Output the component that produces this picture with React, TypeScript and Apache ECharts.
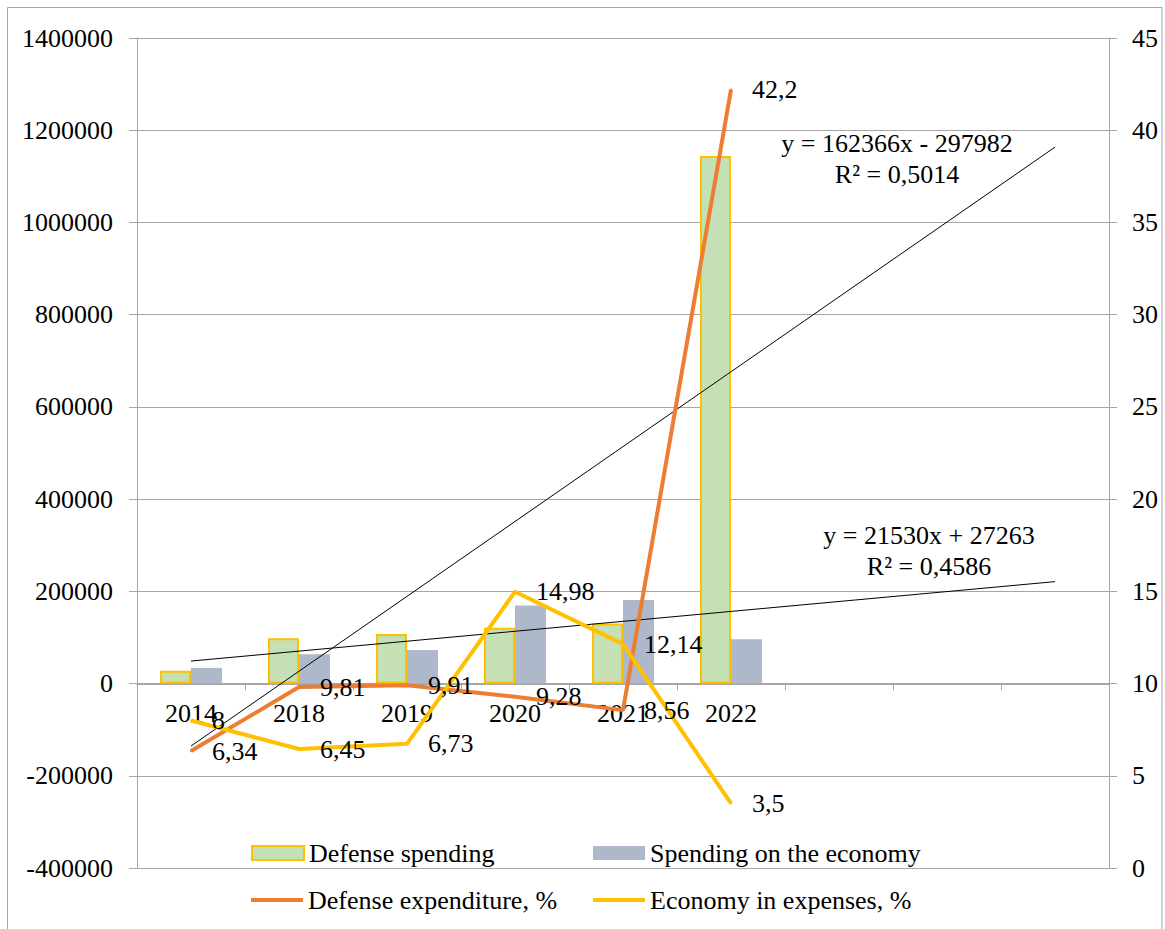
import React, { useEffect, useRef } from "react";
import * as echarts from "echarts";

const categories = ["2014", "2018", "2019", "2020", "2021", "2022", "", "", ""];
const defenseSpending = [28000, 98000, 107500, 121000, 130000, 1144000];
const economySpending = [34000, 63500, 73000, 169500, 181000, 96000];
const defensePct = [6.34, 9.81, 9.91, 9.28, 8.56, 42.2];
const economyPct = [8, 6.45, 6.73, 14.98, 12.14, 3.5];
const defenseTrend = [-135616, null, null, null, null, null, null, null, 1163312];
const economyTrend = [48793, null, null, null, null, null, null, null, 221033];
const leftTicks = { min: -400000, max: 1400000, interval: 200000 };
const rightTicks = { min: 0, max: 45, interval: 5 };
const eq1 = ["y = 162366x - 297982", "R² = 0,5014"];
const eq2 = ["y = 21530x + 27263", "R² = 0,4586"];

const FONT = "Liberation Serif";
const GRAY = "#a6a6a6";
const GREEN = "#C5E0B4";
const GOLD = "#FFC000";
const BLUEGRAY = "#ADB9CA";
const ORANGE = "#ED7D31";

export default function App() {
  const ref = useRef<HTMLDivElement>(null);
  useEffect(() => {
    document.body.style.margin = "0";
    const chart = echarts.init(ref.current!, null, { renderer: "svg" });
    const txt = { fontSize: 26, fontFamily: FONT, color: "#000" };
    const pctLabel = {
      show: true,
      position: "right",
      distance: 20,
      ...txt,
      formatter: (p: any) => String(p.value).replace(".", ","),
    };
    const legendBase = {
      orient: "horizontal",
      padding: 0,
      itemWidth: 52,
      textStyle: { ...txt },
      selectedMode: false,
    };
    const gtext = (text: string, x: number, y: number) => ({
      type: "text",
      x,
      y,
      silent: true,
      style: {
        text,
        fontSize: 26,
        fontFamily: FONT,
        fill: "#000",
        align: "center",
        verticalAlign: "middle",
      },
    });
    // zero of the left axis lies (400000 / 1800000) of the plot height above its bottom
    const plotH = 929 - 38 - 61;
    const zeroOffset = -Math.round((plotH * (0 - leftTicks.min)) / (leftTicks.max - leftTicks.min));
    chart.setOption({
      animation: false,
      grid: { left: 137, right: 56, top: 38, bottom: 61, containLabel: false },
      legend: [
        {
          ...legendBase,
          data: ["Defense spending"],
          left: 251,
          top: 840,
          icon: "rect",
          itemHeight: 14,
          itemStyle: { color: GREEN, borderColor: GOLD, borderWidth: 2 },
        },
        {
          ...legendBase,
          data: ["Spending on the economy"],
          left: 593,
          top: 840,
          icon: "rect",
          itemHeight: 14,
          itemStyle: { color: BLUEGRAY, borderWidth: 0 },
        },
        {
          ...legendBase,
          data: ["Defense expenditure, %"],
          left: 251,
          top: 887,
          icon: "rect",
          itemHeight: 4,
          itemStyle: { color: ORANGE, borderWidth: 0 },
        },
        {
          ...legendBase,
          data: ["Economy in expenses, %"],
          left: 593,
          top: 887,
          icon: "rect",
          itemHeight: 4,
          itemStyle: { color: GOLD, borderWidth: 0 },
        },
      ],
      xAxis: {
        type: "category",
        data: categories,
        boundaryGap: true,
        position: "bottom",
        offset: zeroOffset,
        axisLine: { show: true, onZero: false, lineStyle: { color: GRAY, width: 1 } },
        axisTick: { show: true, inside: false, length: 6, alignWithLabel: false, interval: 0, lineStyle: { color: GRAY } },
        axisLabel: { ...txt, margin: 16, interval: 0 },
        splitLine: { show: false },
      },
      yAxis: [
        {
          type: "value",
          ...leftTicks,
          position: "left",
          axisLine: { show: true, lineStyle: { color: GRAY, width: 1 } },
          axisTick: { show: true, inside: false, length: 8, lineStyle: { color: GRAY } },
          axisLabel: { ...txt, margin: 24, formatter: (v: number) => String(v) },
          splitLine: { show: true, lineStyle: { color: GRAY, width: 1 } },
        },
        {
          type: "value",
          ...rightTicks,
          position: "right",
          axisLine: { show: true, lineStyle: { color: GRAY, width: 1 } },
          axisTick: { show: true, inside: false, length: 8, lineStyle: { color: GRAY } },
          axisLabel: { ...txt, margin: 23, formatter: (v: number) => String(v) },
          splitLine: { show: false },
        },
      ],
      series: [
        {
          name: "Defense spending",
          type: "bar",
          yAxisIndex: 0,
          data: defenseSpending,
          barWidth: 31,
          barGap: "0%",
          itemStyle: { color: GREEN, borderColor: GOLD, borderWidth: 2 },
          z: 2,
        },
        {
          name: "Spending on the economy",
          type: "bar",
          yAxisIndex: 0,
          data: economySpending,
          barWidth: 31,
          barGap: "0%",
          itemStyle: { color: BLUEGRAY },
          z: 2,
        },
        {
          name: "defenseTrend",
          type: "line",
          yAxisIndex: 0,
          data: defenseTrend,
          connectNulls: true,
          symbol: "none",
          silent: true,
          lineStyle: { color: "#000", width: 1 },
          z: 3,
        },
        {
          name: "economyTrend",
          type: "line",
          yAxisIndex: 0,
          data: economyTrend,
          connectNulls: true,
          symbol: "none",
          silent: true,
          lineStyle: { color: "#000", width: 1 },
          z: 3,
        },
        {
          name: "Defense expenditure, %",
          type: "line",
          yAxisIndex: 1,
          data: defensePct,
          symbol: "circle",
          symbolSize: 2,
          showSymbol: true,
          itemStyle: { color: ORANGE },
          lineStyle: { color: ORANGE, width: 4 },
          label: pctLabel,
          z: 4,
        },
        {
          name: "Economy in expenses, %",
          type: "line",
          yAxisIndex: 1,
          data: economyPct,
          symbol: "circle",
          symbolSize: 2,
          showSymbol: true,
          itemStyle: { color: GOLD },
          lineStyle: { color: GOLD, width: 4 },
          label: pctLabel,
          z: 4,
        },
      ],
      graphic: [
        {
          type: "rect",
          silent: true,
          shape: { x: 7.5, y: 7.5, width: 1154.5, height: 1000 },
          style: { fill: "none", stroke: GRAY, lineWidth: 1 },
        },
        gtext(eq1[0], 897, 143),
        gtext(eq1[1], 897, 174),
        gtext(eq2[0], 929, 535),
        gtext(eq2[1], 929, 566),
      ],
    });
    return () => chart.dispose();
  }, []);
  return <div ref={ref} style={{ width: 1165, height: 929 }} />;
}
